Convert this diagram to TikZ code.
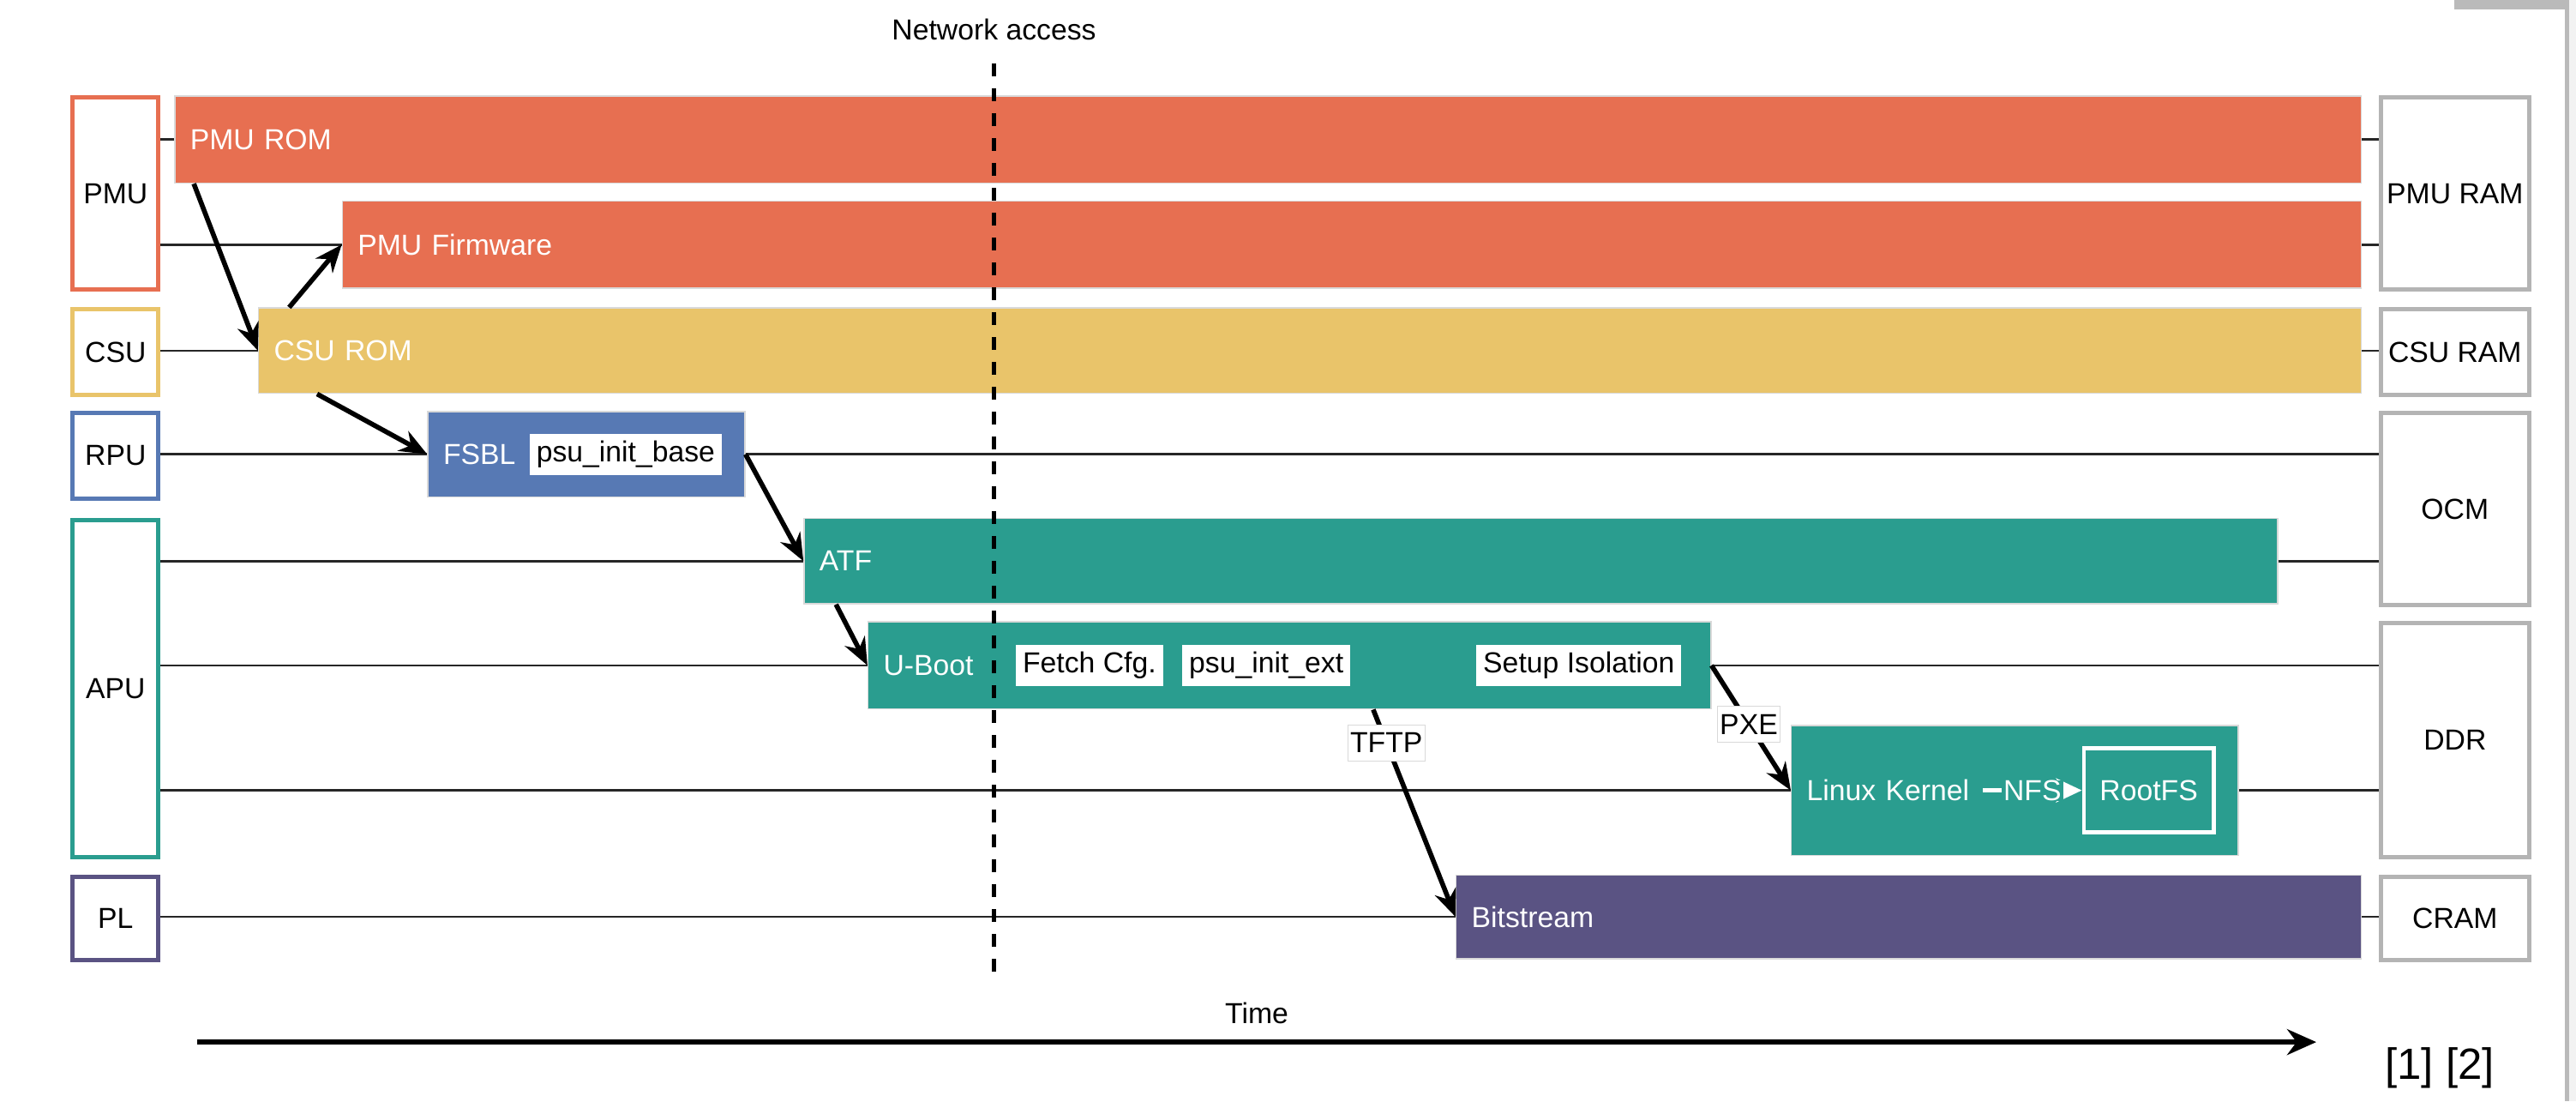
\documentclass[tikz,border=0pt]{standalone}
\usepackage{fontspec}
\setmainfont{Liberation Sans}
\usetikzlibrary{arrows.meta,positioning}

\definecolor{pmucol}{HTML}{E76F51}
\definecolor{csucol}{HTML}{E9C46A}
\definecolor{rpucol}{HTML}{5779B4}
\definecolor{apucol}{HTML}{2A9D8F}
\definecolor{plcol}{HTML}{5A5383}
\definecolor{memcol}{HTML}{B4B4B4}

\begin{document}
\begin{tikzpicture}[
  font=\fontsize{9.6}{11.5}\selectfont,
  unit/.style={draw=#1, line width=1.4pt, fill=white, anchor=north west, minimum width=1cm, inner sep=0pt},
  mem/.style={draw=memcol, line width=1.4pt, fill=white, anchor=north west, minimum width=1.725cm, inner sep=0pt},
  bar/.style={fill=#1, draw=black!15, line width=0.4pt, text=white, anchor=north west, inner xsep=0.18cm, inner ysep=0pt, minimum height=1.016cm, align=left},
  tag/.style={fill=white, inner xsep=0.08cm, inner ysep=0pt, minimum height=0.48cm, text=black},
  wire/.style={line width=0.75pt, black!85},
  flow/.style={line width=1.6pt, -{Stealth[length=0.32cm, width=0.26cm]}},
  edgelabel/.style={fill=white, draw=black!15, line width=0.3pt, inner xsep=0.03cm, inner ysep=0pt, minimum height=0.42cm, text=black},
  netline/.style={line width=1.5pt, dash pattern=on 0.15cm off 0.14cm},
]
\useasboundingbox (0,0) rectangle (30.05,-12.84);

% window frame
\fill[black!27] (28.63,0) rectangle (29.97,-0.11);
\fill[black!27] (29.92,0) rectangle (29.97,-12.84);
\fill[black!5] (29.97,0) rectangle (30.05,-12.84);

% processing units
\node[unit=pmucol, minimum height=2.242cm] (pmu) at (0.824,-1.112) {PMU};
\node[unit=csucol, minimum height=0.996cm] (csu) at (0.824,-3.584) {CSU};
\node[unit=rpucol, minimum height=0.997cm] (rpu) at (0.824,-4.791) {RPU};
\node[unit=apucol, minimum height=3.929cm] (apu) at (0.824,-6.037) {APU};
\node[unit=plcol, minimum height=0.977cm] (pl) at (0.824,-10.196) {PL};

% memories
\node[mem, minimum height=2.242cm] (pmuram) at (27.751,-1.112) {PMU RAM};
\node[mem, minimum height=0.996cm] (csuram) at (27.751,-3.584) {CSU RAM};
\node[mem, minimum height=2.243cm] (ocm) at (27.751,-4.791) {OCM};
\node[mem, minimum height=2.722cm] (ddr) at (27.751,-7.244) {DDR};
\node[mem, minimum height=0.977cm] (cram) at (27.751,-10.196) {CRAM};

% boot stages
\node[bar=pmucol, text width=25.149cm] (pmurom) at (2.031,-1.112) {PMU ROM};
\node[bar=pmucol, text width=23.194cm] (pmufw) at (3.986,-2.338) {PMU Firmware};
\node[bar=csucol, minimum height=0.996cm, text width=24.171cm] (csurom) at (3.009,-3.584) {CSU ROM};
\node[bar=rpucol, minimum height=0.997cm, text width=3.339cm] (fsbl) at (4.983,-4.791) {FSBL};
\node[bar=apucol, minimum height=0.997cm, text width=16.831cm] (atf) at (9.372,-6.037) {ATF};
\node[bar=apucol, text width=9.472cm] (uboot) at (10.119,-7.244) {U-Boot};
\node[bar=apucol, minimum height=1.514cm, text width=4.853cm] (linux) at (20.890,-8.452) {Linux Kernel};
\node[bar=plcol, minimum height=0.977cm, text width=10.2cm] (bitstream) at (16.980,-10.196) {Bitstream};

\foreach \u/\b/\m in {pmu/pmurom/pmuram, pmu/pmufw/pmuram, csu/csurom/csuram, rpu/fsbl/ocm,
                      apu/atf/ocm, apu/uboot/ddr, apu/linux/ddr, pl/bitstream/cram}{
  \draw[wire] (\b.west -| \u.east) -- (\b.west);
  \draw[wire] (\b.east) -- (\b.east -| \m.west);
}

% steps inside the stages
\node[tag, right=1.188cm of fsbl.west] (psubase) {psu\_init\_base};
\node[tag, right=1.725cm of uboot.west] (fetch) {Fetch Cfg.};
\node[tag, right=0.21cm of fetch] (psuext) {psu\_init\_ext};
\node[tag, right=1.456cm of psuext] (setupiso) {Setup Isolation};
\node[draw=white, line width=1.4pt, text=white, minimum width=1.514cm, minimum height=0.977cm, inner sep=0pt, left=0.269cm of linux.east] (rootfs) {RootFS};
\coordinate (nfsfrom) at ([xshift=2.24cm]linux.west);
\draw[white, line width=1.4pt, -{Stealth[length=0.3cm, width=0.28cm]}] (nfsfrom) -- node[fill=apucol, text=white, inner xsep=0.02cm, inner ysep=0pt]{NFS} (rootfs);

% hand-over arrows
\draw[flow] ([xshift=0.23cm]pmurom.south west) -- (csurom.west);
\draw[flow] ([xshift=0.364cm]csurom.north west) -- (pmufw.west);
\draw[flow] ([xshift=0.69cm]csurom.south west) -- (fsbl.west);
\draw[flow] (fsbl.east) -- (atf.west);
\draw[flow] ([xshift=0.38cm]atf.south west) -- (uboot.west);
\draw[flow] ([xshift=5.9cm]uboot.south west) -- node[edgelabel, pos=0.16]{TFTP} (bitstream.west);
\draw[flow] (uboot.east) -- node[edgelabel, pos=0.47]{PXE} (linux.west);

% network access
\node (netaccess) at (11.595,-0.345) {Network access};
\coordinate (netend) at (11.595,-11.442);
\draw[netline] ([yshift=-0.15cm]netaccess.south) -- (netend);

% time axis
\coordinate (tstart) at (2.30,-12.151);
\coordinate (tend) at (27.02,-12.151);
\draw[line width=1.8pt, -{Stealth[length=0.34cm, width=0.3cm]}] (tstart) -- node[above=0.16cm, fill=white, inner sep=0.02cm]{Time} (tend);

\node[font=\fontsize{14.5}{17}\selectfont] (refs) at (28.46,-12.457) {[1] [2]};
\end{tikzpicture}
\end{document}
